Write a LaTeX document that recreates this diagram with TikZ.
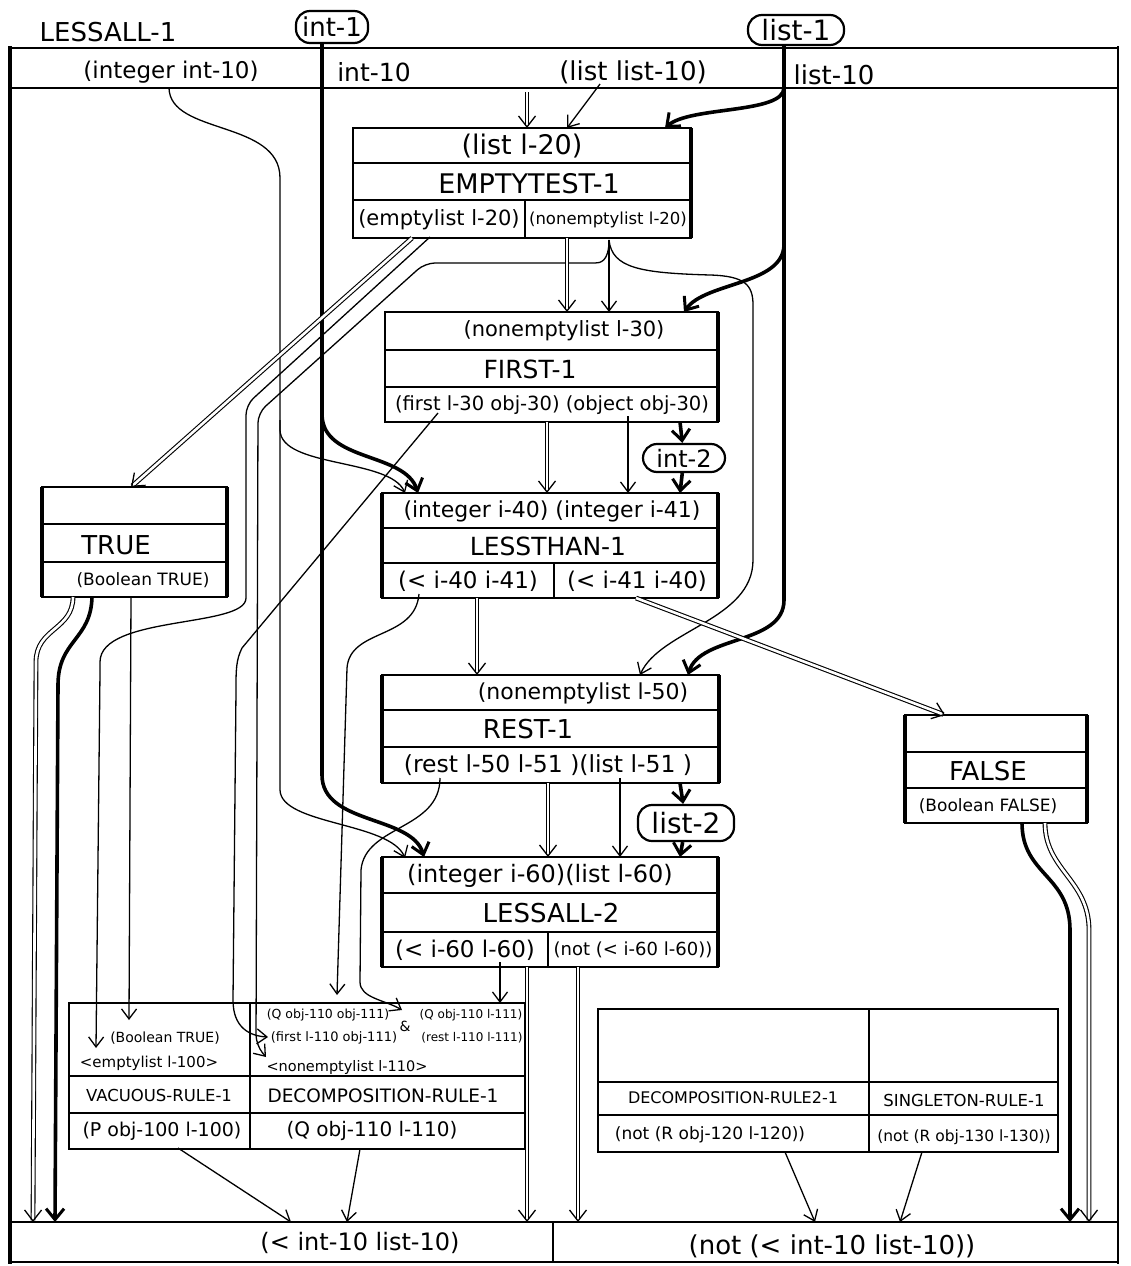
\documentclass[tikz,border=0pt]{standalone}
\usepackage{fontspec}
\setmainfont{DejaVu Sans}
\usetikzlibrary{arrows.meta}
\newcommand\fsz[1]{\fontsize{#1}{#1}\selectfont}
\begin{document}
\begin{tikzpicture}[x=1pt,y=-1pt,
  wire/.style={line width=1.3pt,-{Straight Barb[length=10pt,width=15pt,line width=1.3pt]}},
  valline/.style={line width=3.6pt,-{Straight Barb[length=11pt,width=18pt,line width=3pt]}},
  ctrl/.style={double,double distance=2.6pt,line width=1.1pt,-{Straight Barb[length=11pt,width=17pt,line width=1.3pt]}},
  box/.style={line width=1.8pt},
  side/.style={line width=3.8pt},
  lbl/.style={inner sep=0pt},
  oval/.style={draw,line width=2.2pt,rounded corners=14pt,inner sep=2pt}]
\useasboundingbox (0,0) rectangle (1131,1266);
\fill[white] (0,0) rectangle (1131,1266);

% ---------- outer frame ----------
\draw[line width=1.6pt] (10,48) -- (1118,48) (10,88) -- (1118,88) (10,1222) -- (1118,1222) (10,1262) -- (1118,1262) (553,1222) -- (553,1262);
\draw[line width=3.6pt] (10,46) -- (10,1264);
\draw[line width=2.6pt] (1118,46) -- (1118,1264);
\node[lbl,font=\fsz{26}] (title) at (108,32) {LESSALL-1};
\node[lbl,font=\fsz{23}] (hint) at (171,72) {(integer int-10)};
\node[lbl,font=\fsz{25}] (hint10) at (374,72) {int-10};
\node[lbl,font=\fsz{26}] (hlist) at (633,72) {(list list-10)};
\node[lbl,font=\fsz{26}] (hlist10) at (834,75) {list-10};
\node[lbl,font=\fsz{24}] (outyes) at (360,1243) {(< int-10 list-10)};
\node[lbl,font=\fsz{26}] (outno) at (832,1246) {(not (< int-10 list-10))};

% ---------- ovals ----------
\node[oval,font=\fsz{26},minimum width=72pt,minimum height=32pt] (int1) at (332,27) {int-1};
\node[oval,font=\fsz{28},minimum width=96pt,minimum height=30pt] (list1) at (796,30) {list-1};
\node[oval,font=\fsz{24},minimum width=82pt,minimum height=28pt] (int2) at (684,458) {int-2};
\node[oval,font=\fsz{28},minimum width=96pt,minimum height=36pt] (list2) at (686,823) {list-2};

% ---------- EMPTYTEST-1 ----------
\draw[box] (353,128) rectangle (691,238) (353,163) -- (691,163) (353,200) -- (691,200) (525,200) -- (525,238);
\draw[side] (691,128) -- (691,238);
\node[lbl,font=\fsz{27}] (et1) at (522,146) {(list l-20)};
\node[lbl,font=\fsz{27}] (et2) at (529,184) {EMPTYTEST-1};
\node[lbl,font=\fsz{21}] (et3) at (439,220) {(emptylist l-20)};
\node[lbl,font=\fsz{16.5}] (et4) at (608,220) {(nonemptylist l-20)};

% ---------- FIRST-1 ----------
\draw[box] (385,312) rectangle (718,422) (385,350) -- (718,350) (385,387) -- (718,387);
\draw[side] (718,312) -- (718,422);
\node[lbl,font=\fsz{21}] (fi1) at (564,331) {(nonemptylist l-30)};
\node[lbl,font=\fsz{25}] (fi2) at (530,369) {FIRST-1};
\node[lbl,font=\fsz{19.5}] (fi3) at (552,405) {(first l-30 obj-30) (object obj-30)};

% ---------- LESSTHAN-1 ----------
\draw[box] (382,493) rectangle (718,598) (382,528) -- (718,528) (382,563) -- (718,563) (554,563) -- (554,598);
\draw[side] (382,493) -- (382,598) (718,493) -- (718,598);
\node[lbl,font=\fsz{22}] (lt1) at (552,511) {(integer i-40) (integer i-41)};
\node[lbl,font=\fsz{25}] (lt2) at (548,546) {LESSTHAN-1};
\node[lbl,font=\fsz{23}] (lt3) at (468,581) {(< i-40 i-41)};
\node[lbl,font=\fsz{23}] (lt4) at (637,581) {(< i-41 i-40)};

% ---------- REST-1 ----------
\draw[box] (382,675) rectangle (719,783) (382,710) -- (719,710) (382,747) -- (719,747);
\draw[side] (382,675) -- (382,783) (719,675) -- (719,783);
\node[lbl,font=\fsz{22}] (re1) at (583,693) {(nonemptylist l-50)};
\node[lbl,font=\fsz{26}] (re2) at (528,729) {REST-1};
\node[lbl,font=\fsz{23.5}] (re3) at (548,765) {(rest l-50 l-51 )(list l-51 )};

% ---------- LESSALL-2 ----------
\draw[box] (382,857) rectangle (718,967) (382,893) -- (718,893) (382,932) -- (718,932) (548,932) -- (548,967);
\draw[side] (382,857) -- (382,967) (718,857) -- (718,967);
\node[lbl,font=\fsz{24}] (la1) at (540,876) {(integer i-60)(list l-60)};
\node[lbl,font=\fsz{26}] (la2) at (551,913) {LESSALL-2};
\node[lbl,font=\fsz{23}] (la3) at (465,950) {(< i-60 l-60)};
\node[lbl,font=\fsz{18}] (la4) at (633,950) {(not (< i-60 l-60))};

% ---------- TRUE ----------
\draw[box] (42,487) rectangle (227,597) (42,524) -- (227,524) (42,562) -- (227,562);
\draw[side] (42,487) -- (42,597) (227,487) -- (227,597);
\node[lbl,font=\fsz{26}] (tr1) at (116,545) {TRUE};
\node[lbl,font=\fsz{17}] (tr2) at (143,580) {(Boolean TRUE)};

% ---------- FALSE ----------
\draw[box] (905,715) rectangle (1087,823) (905,752) -- (1087,752) (905,788) -- (1087,788);
\draw[side] (905,715) -- (905,823) (1087,715) -- (1087,823);
\node[lbl,font=\fsz{26}] (fa1) at (988,771) {FALSE};
\node[lbl,font=\fsz{17}] (fa2) at (988,806) {(Boolean FALSE)};

% ---------- rule box left ----------
\draw[box] (69,1003) rectangle (525,1149) (69,1076) -- (525,1076) (69,1113) -- (525,1113) (250,1003) -- (250,1149);
\node[lbl,font=\fsz{14}] (rl1) at (165,1038) {(Boolean TRUE)};
\node[lbl,font=\fsz{15}] (rl2) at (149,1063) {\textless emptylist l-100\textgreater};
\node[lbl,font=\fsz{12.5}] (rl3) at (328,1015) {(Q obj-110 obj-111)};
\node[lbl,font=\fsz{14}] (rl4) at (405,1026) {\&};
\node[lbl,font=\fsz{12}] (rl5) at (471,1015) {(Q obj-110 l-111)};
\node[lbl,font=\fsz{13}] (rl6) at (334,1038) {(first l-110 obj-111)};
\node[lbl,font=\fsz{12}] (rl7) at (472,1038) {(rest l-110 l-111)};
\node[lbl,font=\fsz{14.5}] (rl8) at (347,1067) {\textless nonemptylist l-110\textgreater};
\node[lbl,font=\fsz{16.5}] (rl9) at (159,1095) {VACUOUS-RULE-1};
\node[lbl,font=\fsz{18.5}] (rl10) at (383,1096) {DECOMPOSITION-RULE-1};
\node[lbl,font=\fsz{19}] (rl11) at (162,1131) {(P obj-100 l-100)};
\node[lbl,font=\fsz{20}] (rl12) at (372,1131) {(Q obj-110 l-110)};

% ---------- rule box right ----------
\draw[box] (598,1009) rectangle (1058,1152) (598,1082) -- (1058,1082) (598,1115) -- (1058,1115) (869,1009) -- (869,1152);
\node[lbl,font=\fsz{16}] (rr1) at (733,1098) {DECOMPOSITION-RULE2-1};
\node[lbl,font=\fsz{16.5}] (rr2) at (964,1100) {SINGLETON-RULE-1};
\node[lbl,font=\fsz{17}] (rr3) at (710,1135) {(not (R obj-120 l-120))};
\node[lbl,font=\fsz{15.5}] (rr4) at (964,1137) {(not (R obj-130 l-130))};

% ---------- ports ----------
\coordinate (i1top) at (322,42);
\coordinate (l1top) at (784,44);
\coordinate (hint-o) at (169,88);
\coordinate (hlist-o) at (600,84);
\coordinate (hctrl) at (527,92);
\coordinate (et-ic) at (527,128);
\coordinate (et-il) at (567,128);
\coordinate (et-iv) at (665,128);
\coordinate (et-oe2) at (412,238);
\coordinate (et-oe1) at (430,237);
\coordinate (et-on) at (609,240);
\coordinate (et-onc) at (567,238);
\coordinate (fi-ic) at (567,312);
\coordinate (fi-il) at (609,312);
\coordinate (fi-iv) at (684,312);
\coordinate (fi-oc) at (547,422);
\coordinate (fi-of) at (438,413);
\coordinate (fi-oo) at (628,416);
\coordinate (fi-ov) at (680,422);
\coordinate (lt-ic) at (547,493);
\coordinate (lt-i40) at (405,493);
\coordinate (lt-iv1) at (418,493);
\coordinate (lt-i41) at (628,493);
\coordinate (lt-iv2) at (680,493);
\coordinate (lt-oc1) at (477,598);
\coordinate (lt-oa) at (419,594);
\coordinate (lt-oc2) at (636,598);
\coordinate (re-ic) at (477,675);
\coordinate (re-il) at (640,675);
\coordinate (re-iv) at (688,675);
\coordinate (re-oc) at (548,783);
\coordinate (re-or) at (440,778);
\coordinate (re-ol) at (620,778);
\coordinate (re-ov) at (680,783);
\coordinate (la-ic) at (548,857);
\coordinate (la-ii) at (405,858);
\coordinate (la-iv) at (424,857);
\coordinate (la-il) at (620,857);
\coordinate (la-iv2) at (680,857);
\coordinate (la-oa) at (500,962);
\coordinate (la-oc1) at (527,967);
\coordinate (la-oc2) at (578,967);
\coordinate (tr-i) at (131,487);
\coordinate (tr-oc) at (73,597);
\coordinate (tr-ov) at (92,597);
\coordinate (tr-ob) at (131,597);
\coordinate (fa-i) at (945,715);
\coordinate (fa-ov) at (1022,823);
\coordinate (fa-oc) at (1045,823);
\coordinate (rl-ib) at (129,1020);
\coordinate (rl-ie) at (96,1048);
\coordinate (rl-if) at (268,1037);
\coordinate (rl-in) at (266,1057);
\coordinate (rl-iq1) at (337,995);
\coordinate (rl-iamp) at (402,1010);
\coordinate (rl-iq2) at (500,1003);
\coordinate (rl-op) at (178,1148);
\coordinate (rl-oq) at (360,1149);
\coordinate (rr-o1) at (785,1152);
\coordinate (rr-o2) at (922,1152);
\coordinate (b-i1) at (291,1222);
\coordinate (b-i2) at (347,1222);
\coordinate (b-ic) at (527,1222);
\coordinate (b-it1) at (33,1222);
\coordinate (b-it2) at (55,1222);
\coordinate (b-in1) at (578,1222);
\coordinate (b-in2) at (815,1222);
\coordinate (b-in3) at (900,1222);
\coordinate (b-if1) at (1070,1222);
\coordinate (b-if2) at (1089,1222);
\coordinate (i1b) at (322,400);
\coordinate (intb) at (280,420);
\coordinate (l1b1) at (784,88);
\coordinate (l1b2) at (784,245);

% ---------- value lines (thick) ----------
\draw[valline] (i1top) -- (322,415) .. controls (323,462) and (405,452) .. (lt-iv1);
\draw[valline] (i1b) -- (322,775) .. controls (322,825) and (412,815) .. (la-iv);
\draw[valline] (l1top) -- (784,600) .. controls (784,645) and (700,635) .. (re-iv);
\draw[valline] (l1b1) .. controls (783,114) and (690,106) .. (et-iv);
\draw[valline] (l1b2) .. controls (783,285) and (705,282) .. (fi-iv);
\draw[valline] (fi-ov) -- (int2);
\draw[valline] (int2) -- (lt-iv2);
\draw[valline] (re-ov) -- (list2);
\draw[valline] (list2) -- (la-iv2);
\draw[valline] (tr-ov) .. controls (91,640) and (58,640) .. (58,685) -- (b-it2);
\draw[valline] (fa-ov) .. controls (1022,875) and (1070,875) .. (1070,930) -- (b-if1);

% ---------- port wires (thin) ----------
\draw[wire] (hint-o) .. controls (170,135) and (280,120) .. (280,178) -- (280,430) .. controls (281,468) and (390,458) .. (lt-i40);
\draw[wire] (intb) -- (280,790) .. controls (281,825) and (390,822) .. (la-ii);
\draw[wire] (hlist-o) -- (et-il);
\draw[wire,rounded corners=10pt] (et-oe1) -- (246,405) -- (246,588) .. controls (246,628) and (100,615) .. (100,672) -- (rl-ie);
\draw[wire,rounded corners=10pt] (et-on) .. controls (609,262) and (600,263) .. (585,263) -- (425,263) -- (258,413) -- (256,1045) -- (rl-in);
\draw[wire] (et-on) -- (fi-il);
\draw[wire] (et-on) .. controls (612,268) and (640,273) .. (710,275) .. controls (745,276) and (753,285) .. (753,305) -- (753,560) .. controls (753,620) and (660,630) .. (re-il);
\draw[wire] (fi-oo) -- (lt-i41);
\draw[wire] (fi-of) -- (242,648) .. controls (236,660) and (236,670) .. (236,690) -- (233,1000) .. controls (233,1028) and (250,1036) .. (rl-if);
\draw[wire] (lt-oa) .. controls (415,640) and (350,628) .. (347,668) -- (rl-iq1);
\draw[wire] (re-ol) -- (la-il);
\draw[wire] (re-or) .. controls (440,830) and (365,825) .. (361,870) -- (360,982) .. controls (360,998) and (385,1000) .. (rl-iamp);
\draw[wire] (la-oa) -- (rl-iq2);
\draw[wire] (tr-ob) -- (rl-ib);
\draw[wire] (rl-op) -- (b-i1);
\draw[wire] (rl-oq) -- (b-i2);
\draw[wire] (rr-o1) -- (b-in2);
\draw[wire] (rr-o2) -- (b-in3);

% ---------- control lines (double) ----------
\draw[ctrl] (hctrl) -- (et-ic);
\draw[ctrl] (et-oe2) -- (tr-i);
\draw[ctrl] (et-onc) -- (fi-ic);
\draw[ctrl] (fi-oc) -- (lt-ic);
\draw[ctrl] (lt-oc1) -- (re-ic);
\draw[ctrl] (lt-oc2) -- (fa-i);
\draw[ctrl] (re-oc) -- (la-ic);
\draw[ctrl] (la-oc1) -- (b-ic);
\draw[ctrl] (la-oc2) -- (b-in1);
\draw[ctrl] (tr-oc) .. controls (73,630) and (36,628) .. (36,662) -- (b-it1);
\draw[ctrl] (fa-oc) .. controls (1045,870) and (1089,880) .. (1089,930) -- (b-if2);
\end{tikzpicture}
\end{document}
